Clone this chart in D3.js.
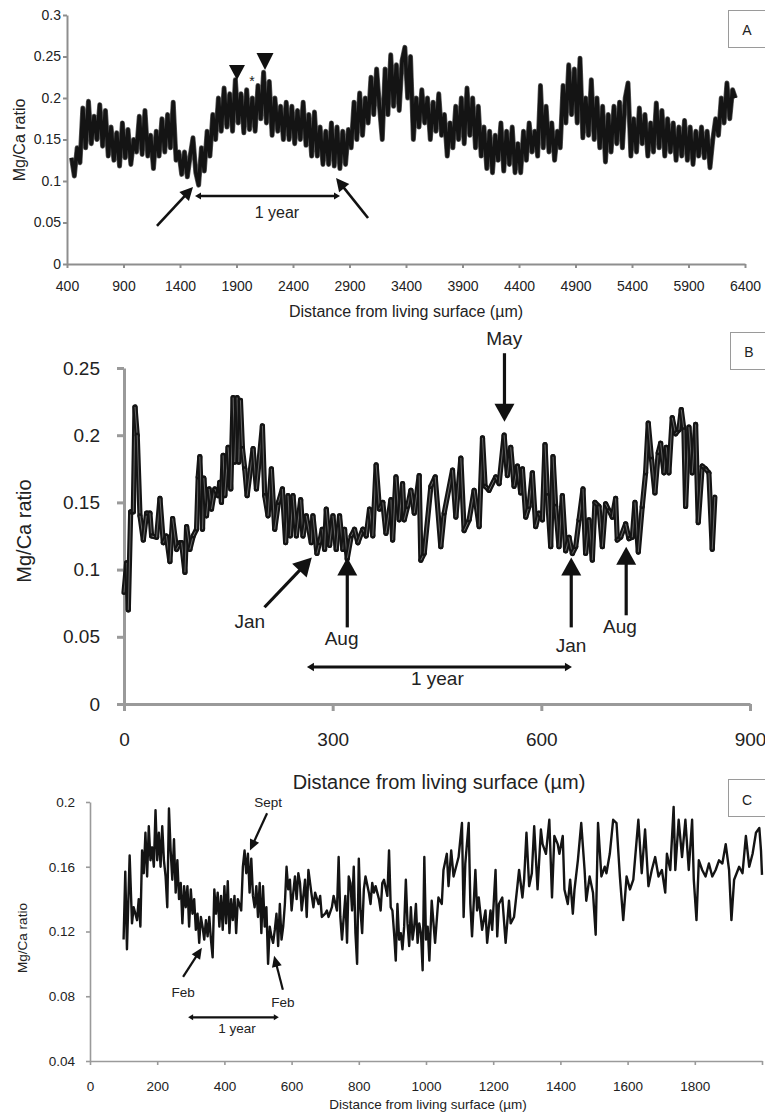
<!DOCTYPE html>
<html><head><meta charset="utf-8">
<script src="https://cdn.jsdelivr.net/npm/d3@7"></script>
<style>
html,body{margin:0;padding:0;background:#fff;}
svg{display:block;}
</style></head><body>
<svg id="c" width="765" height="1115"></svg>
<script>
// ---------------- DATA ----------------
// Panel A: distance (µm), Mg/Ca ratio
const panelA = [
[440,.128],[465,.106],[490,.14],[515,.122],[540,.188],[565,.14],[590,.196],[615,.145],[640,.178],[665,.15],
[690,.192],[715,.142],[740,.185],[765,.13],[790,.165],[815,.125],[840,.158],[865,.118],[890,.17],[915,.128],
[940,.162],[965,.12],[990,.15],[1015,.135],[1040,.178],[1065,.132],[1090,.185],[1115,.13],[1140,.155],[1165,.115],
[1190,.16],[1215,.13],[1240,.175],[1265,.135],[1290,.18],[1315,.14],[1340,.195],[1365,.125],[1390,.135],[1415,.108],
[1440,.135],[1465,.105],[1490,.13],[1515,.152],[1540,.11],[1565,.095],[1590,.14],[1615,.112],[1640,.16],[1665,.13],
[1690,.18],[1715,.15],[1740,.2],[1765,.16],[1790,.212],[1815,.165],[1840,.205],[1865,.16],[1890,.222],[1915,.17],
[1940,.205],[1965,.158],[1990,.21],[2015,.162],[2040,.2],[2065,.16],[2090,.215],[2115,.175],[2140,.231],[2165,.17],
[2190,.22],[2215,.155],[2240,.2],[2265,.16],[2290,.19],[2315,.15],[2340,.195],[2365,.15],[2390,.19],[2415,.145],
[2440,.185],[2465,.15],[2490,.195],[2515,.143],[2540,.18],[2565,.13],[2590,.183],[2615,.13],[2640,.165],[2665,.12],
[2690,.16],[2715,.12],[2740,.17],[2765,.118],[2790,.165],[2815,.115],[2840,.16],[2865,.12],[2890,.162],[2915,.14],
[2940,.195],[2965,.15],[2990,.206],[3015,.155],[3040,.2],[3065,.17],[3090,.225],[3115,.18],[3140,.235],[3165,.19],
[3190,.15],[3215,.235],[3240,.18],[3265,.252],[3290,.19],[3315,.24],[3340,.185],[3365,.245],[3390,.261],[3415,.2],
[3440,.25],[3465,.15],[3490,.2],[3515,.165],[3540,.21],[3565,.17],[3590,.2],[3615,.15],[3640,.195],[3665,.16],
[3690,.205],[3715,.155],[3740,.18],[3765,.13],[3790,.17],[3815,.14],[3840,.19],[3865,.15],[3890,.2],[3915,.145],
[3940,.212],[3965,.155],[3990,.2],[4015,.14],[4040,.19],[4065,.13],[4090,.165],[4115,.115],[4140,.16],[4165,.11],
[4190,.155],[4215,.125],[4240,.17],[4265,.112],[4290,.16],[4315,.12],[4340,.165],[4365,.11],[4390,.145],[4415,.11],
[4440,.16],[4465,.125],[4490,.17],[4515,.135],[4540,.16],[4565,.13],[4590,.215],[4615,.14],[4640,.19],[4665,.135],
[4690,.17],[4715,.125],[4740,.16],[4765,.14],[4790,.215],[4815,.17],[4840,.24],[4865,.18],[4890,.235],[4915,.17],
[4940,.248],[4965,.152],[4990,.2],[5015,.155],[5040,.222],[5065,.15],[5090,.2],[5115,.14],[5140,.19],[5165,.123],
[5190,.18],[5215,.135],[5240,.19],[5265,.145],[5290,.195],[5315,.14],[5340,.2],[5365,.218],[5390,.13],[5415,.175],
[5440,.135],[5465,.188],[5490,.145],[5515,.18],[5540,.13],[5565,.17],[5590,.135],[5615,.194],[5640,.14],[5665,.185],
[5690,.13],[5715,.175],[5740,.135],[5765,.17],[5790,.125],[5815,.165],[5840,.13],[5865,.173],[5890,.125],[5915,.165],
[5940,.12],[5965,.16],[5990,.13],[6015,.165],[6040,.128],[6065,.16],[6090,.116],[6115,.15],[6140,.175],[6165,.155],
[6190,.2],[6215,.17],[6240,.218],[6265,.175],[6290,.21],[6315,.2]
];
// Panel B
const panelB = [
[0,.083],[3.8,.105],[6.2,.07],[9.6,.143],[13.4,.143],[15.8,.221],[19,.2],[23,.14],[27.8,.122],[32.5,.142],
[37.3,.142],[39.7,.125],[46.9,.124],[51.7,.153],[56.5,.12],[61,.125],[66,.106],[69.9,.138],[75.6,.115],[80.4,.12],
[82.8,.12],[87.6,.098],[90,.132],[94.7,.115],[99.5,.125],[104.3,.13],[106.7,.169],[109,.184],[112.9,.13],[114.8,.168],
[118.6,.14],[122.4,.16],[125.8,.145],[130.6,.16],[135.4,.155],[137.7,.165],[140.1,.15],[142.5,.185],[144.9,.155],[149.7,.191],
[153.5,.16],[156.9,.228],[159.2,.18],[162.6,.228],[165,.18],[167.4,.226],[170.3,.19],[173.6,.175],[177,.155],[185.6,.19],
[190.4,.16],[199,.207],[202.3,.155],[207.1,.14],[211.9,.175],[216.7,.13],[222,.15],[227.7,.16],[232.4,.12],[235.8,.155],
[239.1,.125],[243,.155],[247.8,.125],[254,.152],[257.3,.125],[262.1,.14],[269.3,.12],[271.6,.14],[277.4,.112],[281.2,.12],
[285,.13],[288.4,.115],[290.8,.145],[295.6,.118],[300.4,.14],[305.1,.115],[309.9,.14],[314.7,.115],[317.1,.13],[320.9,.108],
[326.7,.125],[331.4,.13],[336.2,.12],[343.4,.13],[348.2,.125],[353,.145],[357.7,.125],[362.5,.178],[367.3,.145],[372.1,.15],
[376.6,.127],[383.8,.152],[386.2,.122],[391,.169],[395.7,.137],[400.5,.164],[402.9,.137],[407.7,.147],[412.5,.159],[417.3,.142],
[424.4,.17],[426.8,.107],[431.6,.112],[441.2,.162],[447.4,.169],[455.5,.117],[460.3,.142],[472.3,.174],[477.1,.139],[484.3,.183],
[489,.129],[496.2,.137],[503.4,.159],[510.6,.132],[515.4,.198],[519.2,.162],[524.9,.159],[534.5,.169],[539.3,.164],[546.5,.2],
[551.2,.17],[556,.191],[560.8,.162],[565.6,.177],[570.4,.157],[572.8,.175],[577.6,.139],[582.3,.147],[587.1,.172],[591.9,.132],
[596.7,.142],[601.5,.137],[605.3,.193],[608.7,.155],[613.5,.117],[616.8,.184],[620.6,.147],[625.4,.117],[630.2,.155],[635,.114],
[639.8,.124],[644.6,.112],[649.4,.117],[654.2,.137],[659.9,.16],[663.7,.112],[668.5,.137],[673.3,.107],[677.1,.15],[682.9,.147],
[687.7,.117],[692.4,.149],[697.2,.144],[702,.139],[706.8,.153],[709.2,.122],[714,.124],[721.2,.134],[726,.123],[730.8,.124],
[734.6,.15],[739.4,.113],[745.1,.147],[749.9,.172],[753.7,.209],[758.5,.182],[763.3,.157],[768.1,.187],[771.5,.194],[776.3,.172],
[779.6,.191],[783.4,.172],[788.2,.213],[793,.201],[797.8,.204],[801.2,.219],[805,.204],[807.4,.147],[812.2,.206],[817,.172],
[821.8,.208],[825.6,.135],[831.3,.177],[836.1,.175],[840.9,.172],[845.7,.115],[849.5,.154]
];
// Panel C
const panelC = [
[100,.115],[105,.157],[110,.109],[118,.167],[125,.125],[130,.135],[140,.127],[145,.14],[150,.123],[155,.17],
[160,.156],[165,.181],[170,.154],[175,.185],[180,.164],[185,.172],[190,.16],[195,.195],[200,.164],[205,.181],
[210,.16],[215,.185],[220,.164],[225,.154],[230,.135],[235,.196],[240,.17],[245,.152],[250,.177],[255,.144],
[260,.164],[265,.14],[270,.15],[275,.125],[280,.148],[285,.135],[290,.148],[295,.123],[300,.146],[305,.131],
[310,.14],[315,.121],[320,.131],[325,.113],[330,.129],[335,.123],[340,.115],[345,.127],[350,.117],[355,.129],
[360,.115],[365,.104],[370,.146],[375,.131],[380,.144],[385,.123],[390,.142],[395,.121],[400,.148],[405,.125],
[410,.151],[415,.119],[420,.14],[425,.127],[430,.142],[435,.119],[440,.14],[450,.133],[455,.16],[460,.17],
[465,.156],[470,.168],[475,.144],[480,.165],[485,.142],[490,.135],[495,.148],[500,.129],[505,.15],[510,.119],
[515,.148],[520,.123],[525,.135],[530,.1],[535,.123],[540,.117],[545,.113],[550,.121],[555,.131],[560,.111],
[565,.137],[570,.115],[575,.123],[580,.137],[585,.16],[590,.146],[595,.152],[600,.133],[605,.144],[610,.154],
[615,.14],[620,.156],[625,.15],[630,.133],[635,.142],[640,.152],[645,.129],[650,.158],[655,.15],[660,.142],
[665,.135],[670,.144],[680,.137],[685,.142],[690,.129],[700,.131],[705,.133],[710,.129],[720,.135],[725,.142],
[735,.133],[740,.166],[745,.129],[750,.115],[760,.142],[765,.113],[770,.154],[775,.15],[780,.133],[785,.16],
[790,.119],[795,.1],[800,.165],[805,.133],[810,.119],[815,.146],[820,.154],[830,.144],[835,.137],[840,.15],
[845,.144],[850,.148],[860,.14],[865,.133],[870,.15],[875,.152],[885,.142],[890,.17],[895,.135],[900,.133],
[905,.119],[910,.102],[915,.137],[920,.115],[925,.119],[930,.109],[935,.123],[940,.152],[945,.125],[950,.111],
[955,.135],[960,.115],[965,.123],[970,.137],[975,.113],[980,.125],[985,.119],[990,.096],[995,.166],[1000,.115],
[1005,.123],[1010,.102],[1017,.139],[1027,.113],[1037,.141],[1047,.137],[1052,.158],[1062,.168],[1067,.148],[1075,.17],
[1082,.154],[1092,.162],[1097,.166],[1107,.187],[1112,.129],[1117,.162],[1127,.187],[1132,.137],[1137,.117],[1147,.158],
[1152,.133],[1157,.141],[1167,.121],[1177,.133],[1182,.113],[1192,.133],[1197,.121],[1207,.158],[1212,.117],[1217,.137],
[1227,.141],[1237,.113],[1247,.139],[1252,.125],[1262,.129],[1272,.148],[1277,.158],[1287,.141],[1292,.152],[1299,.181],
[1307,.148],[1315,.156],[1322,.185],[1332,.146],[1342,.183],[1347,.174],[1357,.168],[1367,.189],[1375,.141],[1382,.179],
[1392,.174],[1397,.168],[1407,.179],[1412,.146],[1422,.137],[1429,.152],[1437,.131],[1442,.146],[1452,.164],[1462,.187],
[1472,.158],[1477,.139],[1487,.154],[1497,.144],[1505,.118],[1512,.187],[1522,.154],[1532,.16],[1537,.156],[1547,.168],
[1557,.189],[1567,.187],[1577,.154],[1587,.127],[1597,.154],[1607,.146],[1617,.152],[1632,.189],[1642,.156],[1652,.183],
[1662,.148],[1672,.158],[1682,.166],[1692,.154],[1702,.158],[1712,.144],[1717,.168],[1727,.158],[1737,.197],[1742,.158],
[1752,.189],[1762,.166],[1772,.189],[1782,.158],[1792,.189],[1797,.152],[1805,.127],[1812,.164],[1822,.158],[1832,.154],
[1842,.162],[1852,.154],[1862,.158],[1872,.164],[1882,.162],[1892,.174],[1902,.158],[1909,.127],[1917,.152],[1932,.16],
[1942,.156],[1952,.179],[1962,.16],[1972,.168],[1982,.181],[1992,.184],[1997,.17],[2000,.155]
];

// Ticks and labels
const aXTicks = [400,900,1400,1900,2400,2900,3400,3900,4400,4900,5400,5900,6400];
const aXLabels = ["400","900","1400","1900","2400","2900","3400","3900","4400","4900","5400","5900","6400"];
const aYTicks = [0,0.05,0.1,0.15,0.2,0.25,0.3];
const aYLabels = ["0","0.05","0.1","0.15","0.2","0.25","0.3"];
const bXTicks = [0,300,600,900];
const bXLabels = ["0","300","600","900"];
const bYTicks = [0,0.05,0.1,0.15,0.2,0.25];
const bYLabels = ["0","0.05","0.1","0.15","0.2","0.25"];
const cXTicks = [0,200,400,600,800,1000,1200,1400,1600,1800,2000];
const cXLabels = ["0","200","400","600","800","1000","1200","1400","1600","1800",""];
const cYTicks = [0.04,0.08,0.12,0.16,0.2];
const cYLabels = ["0.04","0.08","0.12","0.16","0.2"];

const xTitle = "Distance from living surface (\u00b5m)";
const yTitle = "Mg/Ca ratio";

// Annotations (data coordinates)
const aArrows = [ {from:[1196,0.0458], to:[1515,0.0928]}, {from:[3064,0.0554], to:[2781,0.1036]} ];
const aMarkers = [ {at:[1904,0.2217], w:16, h:15}, {at:[2152,0.2337], w:17, h:17} ];
const aStar = {at:[2037,0.2145], text:"*"};
const aYear = {x0:1533, x1:2816, y:0.0819, labelAt:[2258,0.0554], text:"1 year"};

const bLabels = [
  {text:"May", at:[546.6,0.2671]}, {text:"Jan", at:[180.8,0.0565]}, {text:"Aug", at:[312.8,0.0439]},
  {text:"Jan", at:[642.8,0.0387]}, {text:"Aug", at:[713,0.0528]}
];
const bArrows = [
  {from:[547,0.261], to:[547,0.21]}, {from:[202,0.072], to:[270,0.109]}, {from:[321,0.057], to:[321,0.109]},
  {from:[643,0.057], to:[643,0.109]}, {from:[722,0.066], to:[722,0.117]}
];
const bYear = {x0:263, x1:644, y:0.0275, labelAt:[450.5,0.0141], text:"1 year"};

const cLabels = [ {text:"Sept", at:[530,0.1969]}, {text:"Feb", at:[277,0.0795]}, {text:"Feb", at:[574,0.0734]} ];
const cArrows = [ {from:[527,0.193], to:[476,0.170]}, {from:[277,0.092], to:[333,0.110]}, {from:[574,0.084], to:[548,0.105]} ];
const cYear = {x0:292, x1:562, y:0.067, labelAt:[437.5,0.0573], text:"1 year"};

// ---------------- DRAW ----------------
const FONT = '"Liberation Sans", Arial, Helvetica, sans-serif';
const TXT = "#222";
const svg = d3.select("#c").attr("font-family", FONT);

function styleAxis(g, color, width, fs){
  g.attr("font-family", FONT).attr("font-size", fs);
  g.select(".domain").attr("stroke", color).attr("stroke-width", width);
  g.selectAll(".tick line").attr("stroke", color).attr("stroke-width", width);
  g.selectAll(".tick text").attr("fill", TXT);
}
function arrow(g, x, y, a, head, hw, lw){
  const x1 = x(a.from[0]), y1 = y(a.from[1]), x2 = x(a.to[0]), y2 = y(a.to[1]);
  const dx = x2-x1, dy = y2-y1, L = Math.hypot(dx,dy), ux = dx/L, uy = dy/L;
  const bx = x2 - ux*head, by = y2 - uy*head;
  g.append("line").attr("x1",x1).attr("y1",y1).attr("x2",bx+ux*1).attr("y2",by+uy*1)
    .attr("stroke","#111").attr("stroke-width",lw);
  g.append("path").attr("d", `M${x2},${y2}L${bx - uy*hw/2},${by + ux*hw/2}L${bx + uy*hw/2},${by - ux*hw/2}Z`)
    .attr("fill","#111");
}
function yearBar(g, x, y, b, lw, fs, hs){
  const x0 = x(b.x0), x1 = x(b.x1), yy = y(b.y);
  g.append("line").attr("x1",x0+hs*0.6).attr("x2",x1-hs*0.6).attr("y1",yy).attr("y2",yy)
    .attr("stroke","#111").attr("stroke-width",lw);
  g.append("path").attr("d",`M${x0},${yy}L${x0+hs},${yy-hs*0.6}L${x0+hs},${yy+hs*0.6}Z`).attr("fill","#111");
  g.append("path").attr("d",`M${x1},${yy}L${x1-hs},${yy-hs*0.6}L${x1-hs},${yy+hs*0.6}Z`).attr("fill","#111");
  g.append("text").attr("x",x(b.labelAt[0])).attr("y",y(b.labelAt[1])).attr("text-anchor","middle")
    .attr("font-size",fs).attr("fill",TXT).text(b.text);
}
function box(g, x0, y0, letter, fs, by){
  g.append("rect").attr("x",x0+0.5).attr("y",y0+0.5).attr("width",50).attr("height",37)
    .attr("fill","#fff").attr("stroke","#9a9a9a").attr("stroke-width",1);
  g.append("text").attr("x",x0+19).attr("y",by).attr("text-anchor","middle").attr("font-size",fs)
    .attr("fill",TXT).text(letter);
}
function yLabel(g, cx, cy, fs){
  g.append("text").attr("transform",`translate(${cx},${cy}) rotate(-90)`).attr("text-anchor","middle")
    .attr("font-size",fs).attr("fill",TXT).text(yTitle);
}

// ===== Panel A =====
const xA = d3.scaleLinear().domain([400,6400]).range([67,745]);
const yA = d3.scaleLinear().domain([0,0.3]).range([264,15]);
const gA = svg.append("g");
const gAy = gA.append("g").attr("transform","translate(67,0)")
  .call(d3.axisLeft(yA).tickValues(aYTicks).tickFormat((d,i)=>aYLabels[i]).tickSize(4).tickPadding(2).tickSizeOuter(0));
styleAxis(gAy, "#8e8e8e", 2, 14);
const gAx = gA.append("g").attr("transform","translate(0,264)")
  .call(d3.axisBottom(xA).tickValues(aXTicks).tickFormat((d,i)=>aXLabels[i]).tickSize(4).tickPadding(13).tickSizeOuter(0));
styleAxis(gAx, "#8e8e8e", 2, 14);
const lineA = d3.line().x(d=>xA(d[0])).y(d=>yA(d[1]));
gA.append("path").datum(panelA).attr("d",lineA).attr("fill","none").attr("stroke","#5a5a5a").attr("stroke-width",5).attr("stroke-linejoin","round");
gA.append("path").datum(panelA).attr("d",lineA).attr("fill","none").attr("stroke","#141414").attr("stroke-width",3.6).attr("stroke-linejoin","round");
gA.append("text").attr("x",406).attr("y",317).attr("text-anchor","middle").attr("font-size",16).attr("fill",TXT).text(xTitle);
yLabel(gA, 25, 140, 16);
aArrows.forEach(a=>arrow(gA, xA, yA, a, 13, 13, 2.6));
aMarkers.forEach(m=>{
  const px = xA(m.at[0]), py = yA(m.at[1]);
  gA.append("path").attr("d",`M${px},${py}L${px-m.w/2},${py-m.h}L${px+m.w/2},${py-m.h}Z`).attr("fill","#111");
});
gA.append("text").attr("x",xA(aStar.at[0])).attr("y",yA(aStar.at[1])).attr("text-anchor","middle").attr("font-size",14).attr("fill",TXT).text(aStar.text);
yearBar(gA, xA, yA, aYear, 2.6, 16, 6);
box(gA, 728, 10, "A", 14, 35);

// ===== Panel B =====
const xB = d3.scaleLinear().domain([0,900]).range([124,750]);
const yB = d3.scaleLinear().domain([0,0.25]).range([704,368]);
const gB = svg.append("g");
const gBy = gB.append("g").attr("transform","translate(124,0)")
  .call(d3.axisLeft(yB).tickValues(bYTicks).tickFormat((d,i)=>bYLabels[i]).tickSize(7).tickPadding(17).tickSizeOuter(0));
styleAxis(gBy, "#9a9a9a", 3, 19);
const gBx = gB.append("g").attr("transform","translate(0,704)")
  .call(d3.axisBottom(xB).tickValues(bXTicks).tickFormat((d,i)=>bXLabels[i]).tickSize(7).tickPadding(22).tickSizeOuter(0));
styleAxis(gBx, "#9a9a9a", 3, 19);
const bPts = panelB.map(d=>[xB(d[0]), yB(d[1])]);
const gBl = gB.append("g");
d3.pairs(bPts).forEach(([p,q])=>{
  gBl.append("line").attr("x1",p[0]).attr("y1",p[1]).attr("x2",q[0]).attr("y2",q[1])
    .attr("stroke","#141414").attr("stroke-width",5.2).attr("stroke-linecap","round");
  gBl.append("line").attr("x1",p[0]).attr("y1",p[1]).attr("x2",q[0]).attr("y2",q[1])
    .attr("stroke","#7e7e7e").attr("stroke-width",0.8);
});
gB.append("text").attr("x",439).attr("y",789).attr("text-anchor","middle").attr("font-size",20).attr("fill",TXT).text(xTitle);
yLabel(gB, 31, 531, 20);
bArrows.forEach(a=>arrow(gB, xB, yB, a, 18, 20, 3.2));
bLabels.forEach(l=>gB.append("text").attr("x",xB(l.at[0])).attr("y",yB(l.at[1])).attr("text-anchor","middle")
  .attr("font-size",19).attr("fill",TXT).text(l.text));
yearBar(gB, xB, yB, bYear, 3, 19, 7);
box(gB, 730, 332, "B", 14, 357);

// ===== Panel C =====
const xC = d3.scaleLinear().domain([0,2000]).range([90,762]);
const yC = d3.scaleLinear().domain([0.04,0.2]).range([1061,802]);
const gC = svg.append("g");
const gCy = gC.append("g").attr("transform","translate(90,0)")
  .call(d3.axisLeft(yC).tickValues(cYTicks).tickFormat((d,i)=>cYLabels[i]).tickSize(4).tickPadding(11).tickSizeOuter(0));
styleAxis(gCy, "#9a9a9a", 1.6, 13.5);
const gCx = gC.append("g").attr("transform","translate(0,1061)")
  .call(d3.axisBottom(xC).tickValues(cXTicks).tickFormat((d,i)=>cXLabels[i]).tickSize(4).tickPadding(16).tickSizeOuter(0));
styleAxis(gCx, "#9a9a9a", 1.6, 13.5);
const lineC = d3.line().x(d=>xC(d[0])).y(d=>yC(d[1]));
gC.append("path").datum(panelC).attr("d",lineC).attr("fill","none").attr("stroke","#141414").attr("stroke-width",2.4).attr("stroke-linejoin","round");
gC.append("text").attr("x",428).attr("y",1109).attr("text-anchor","middle").attr("font-size",13.5).attr("fill",TXT).text(xTitle);
yLabel(gC, 27, 938, 13.5);
cArrows.forEach(a=>arrow(gC, xC, yC, a, 11, 10, 2.2));
cLabels.forEach(l=>gC.append("text").attr("x",xC(l.at[0])).attr("y",yC(l.at[1])).attr("text-anchor","middle")
  .attr("font-size",13.5).attr("fill",TXT).text(l.text));
yearBar(gC, xC, yC, cYear, 2.2, 13.5, 5);
box(gC, 728, 779, "C", 14, 805);
</script>
</body></html>
